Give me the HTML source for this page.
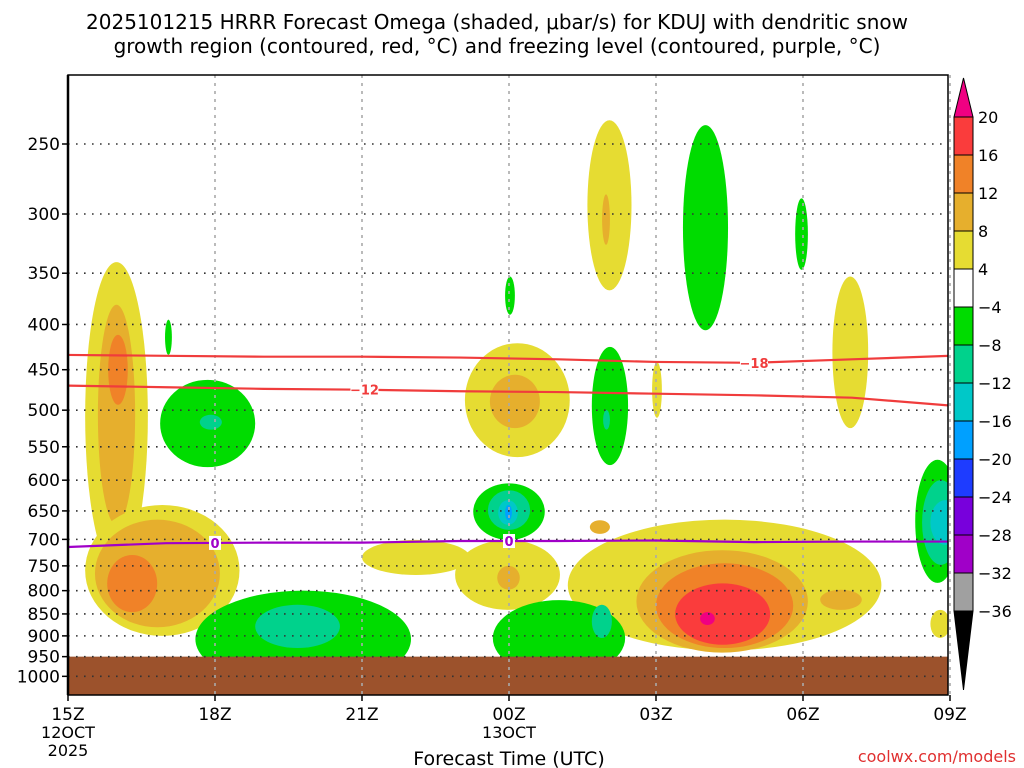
<!DOCTYPE html>
<html><head><meta charset="utf-8"><style>
html,body{margin:0;padding:0;background:#fff;width:1024px;height:768px;overflow:hidden}
svg text{font-family:"DejaVu Sans","Liberation Sans",sans-serif}
</style></head><body>
<svg id="chart" width="1024" height="768" viewBox="0 0 1024 768" xmlns="http://www.w3.org/2000/svg">
<text x="497" y="29" font-size="20" text-anchor="middle" fill="#000">2025101215 HRRR Forecast Omega (shaded, μbar/s) for KDUJ with dendritic snow</text>
<text x="497" y="53" font-size="20" text-anchor="middle" fill="#000">growth region (contoured, red, °C) and freezing level (contoured, purple, °C)</text>
<defs><clipPath id="plotclip"><rect x="68" y="75" width="880" height="620"/></clipPath></defs>
<g id="shade" clip-path="url(#plotclip)"></g>
<g id="grid"></g>
<g id="contours" clip-path="url(#plotclip)"></g>
<g id="axes"></g>
<g id="cbar"></g>
<text x="509" y="765" font-size="19" text-anchor="middle" fill="#000">Forecast Time (UTC)</text>
<text x="1016" y="762" font-size="16" text-anchor="end" fill="#e03030">coolwx.com/models</text>
</svg>
<script>
// ---- data ----
const pressureTicks=[250,300,350,400,450,500,550,600,650,700,750,800,850,900,950,1000];
const timeTickHours=[0,3,6,9,12,15,18];
const timeTickLabels=["15Z","18Z","21Z","00Z","03Z","06Z","09Z"];
const cbarLevels=["20","16","12","8","4","-4","-8","-12","-16","-20","-24","-28","-32","-36"];
const cbarColors=["#fa3c3c","#f08228","#e6af2d","#e6dc32","#ffffff","#00dc00","#00d28c","#00c8c8","#00a0ff","#1e3cff","#7800dc","#a000c8","#a0a0a0"];
// blobs: [hourStart, hourEnd, pTop, pBottom, level]
const blobHourStart=[0.35,0.61,0.82,0.35,0.55,0.8,1.98,1.88,2.69,2.6,3.82,10.6,10.9,12.55,14.84,8.92,15.6,8.1,8.61,10.69,10.92,11.92,6.0,7.9,10.2,11.6,12.0,12.39,12.9,8.76,10.65,15.35,17.6,8.67,10.69,8.27,8.57,8.78,8.92,17.29,17.43,17.6];
const blobHourEnd=[1.63,1.37,1.22,3.5,3.1,1.82,2.12,3.82,3.14,7.0,5.55,11.5,11.06,13.47,15.1,9.12,16.33,10.24,9.63,11.43,11.06,12.12,8.2,10.04,16.6,15.1,14.8,14.33,13.2,9.22,11.06,16.2,18.0,11.37,11.1,9.73,9.43,9.18,9.06,18.2,18.2,18.2];
const blobPTop=[340,380,411,640,665,729,395,462,506,800,830,235,285,238,288,353,353,420,456,424,500,441,701,701,665,720,745,785,846,750,666,798,841,820,830,605,616,632,640,569,600,632];
const blobPBottom=[758,674,493,900,880,846,433,580,526,1030,929,366,325,406,347,390,524,565,524,577,526,510,768,841,935,940,929,921,875,798,690,841,905,1000,905,701,683,674,666,784,748,710];
const blobLevel=[1,2,3,1,2,3,-1,-1,-2,-1,-2,1,2,-1,-1,-1,1,1,2,-1,-2,1,1,1,1,2,3,4,5,2,2,2,1,-1,-2,-1,-2,-3,-4,-1,-2,-3];
// contour lines
const contourHours=[0,2,4,6,8,10,12,14,16,18];
const contourM18=[433,434,435,435,436,438,441,442,438,434];
const contourM12=[469,471,473,474,476,477,479,481,484,494];
const contourZero=[714,707,706,706,703,703,702,705,704,704];

const levelColor={1:"#e6dc32",2:"#e6af2d",3:"#f08228",4:"#fa3c3c",5:"#f00082","-1":"#00dc00","-2":"#00d28c","-3":"#00c8c8","-4":"#00a0ff"};
const X0=68,X1=948,Y0=75,Y1=695;
function xs(h){return X0+h*49;}
function ys(p){return 144+384*Math.log(p/250);}
const NS="http://www.w3.org/2000/svg";
function mk(tag,attrs,parent){const e=document.createElementNS(NS,tag);for(const k in attrs)e.setAttribute(k,attrs[k]);parent.appendChild(e);return e;}

const shade=document.getElementById('shade');
for(let i=0;i<blobLevel.length;i++){
  const x1=xs(blobHourStart[i]),x2=xs(blobHourEnd[i]),y1=ys(blobPTop[i]),y2=ys(blobPBottom[i]);
  const e=mk('ellipse',{cx:(x1+x2)/2,cy:(y1+y2)/2,rx:(x2-x1)/2,ry:(y2-y1)/2,fill:levelColor[blobLevel[i]]},shade);
  
  
}
const ground=mk('rect',{x:X0,y:ys(950),width:X1-X0,height:Y1-ys(950),fill:"#9c522c"},shade);



const grid=document.getElementById('grid');
pressureTicks.forEach(p=>{
  const l=mk('line',{x1:X0,x2:X1,y1:ys(p),y2:ys(p),stroke:"#333",'stroke-width':1.6,'stroke-dasharray':"1.6 6.4"},grid);
  
  
});
timeTickHours.forEach(h=>{
  const l=mk('line',{x1:xs(h),x2:xs(h),y1:Y0,y2:Y1,stroke:"#aaa",'stroke-width':1.6,'stroke-dasharray':"3 5"},grid);
  
  
});

const cont=document.getElementById('contours');
function drawLine(vals,color,label,labelHours,name){
  let d="";contourHours.forEach((h,i)=>{d+=(i?"L":"M")+xs(h)+","+ys(vals[i]);});
  const p=mk('path',{d:d,fill:"none",stroke:color,'stroke-width':2.2},cont);
  
  
  labelHours.forEach(h=>{
    let k=0;while(k<contourHours.length-2&&contourHours[k+1]<h)k++;
    const t=(h-contourHours[k])/(contourHours[k+1]-contourHours[k]);
    const pv=vals[k]+(vals[k+1]-vals[k])*t;
    const w=label.length*8+4;
    mk('rect',{x:xs(h)-w/2,y:ys(pv)-7,width:w,height:14,fill:"#fff"},cont);
    const tx=mk('text',{x:xs(h),y:ys(pv)+5,'font-size':13,'font-weight':'bold','text-anchor':'middle',fill:color},cont);
    tx.textContent=label;
    
    
  });
}
drawLine(contourM18,"#f03c3c","−18",[14],"contour-minus-18");
drawLine(contourM12,"#f03c3c","−12",[6.05],"contour-minus-12");
drawLine(contourZero,"#a000c8","0",[3,9],"freezing-level");

const axes=document.getElementById('axes');
mk('rect',{x:X0,y:Y0,width:X1-X0,height:Y1-Y0,fill:"none",stroke:"#000",'stroke-width':1.5},axes);
mk('line',{x1:X0,x2:X0,y1:Y0,y2:Y1,stroke:"#000",'stroke-width':2.5},axes);
pressureTicks.forEach(p=>{
  mk('line',{x1:X0-6,x2:X0,y1:ys(p),y2:ys(p),stroke:"#000",'stroke-width':1.5},axes);
  const t=mk('text',{x:X0-8,y:ys(p)+6,'font-size':17,'text-anchor':'end',fill:"#000"},axes);
  t.textContent=p;
  
  
});
timeTickHours.forEach((h,i)=>{
  mk('line',{x1:xs(h),x2:xs(h),y1:Y1,y2:Y1+6,stroke:"#000",'stroke-width':1.5},axes);
  const t=mk('text',{x:xs(h),y:720,'font-size':17,'text-anchor':'middle',fill:"#000"},axes);
  t.textContent=timeTickLabels[i];
  
  
});
[["12OCT",0,738],["2025",0,756],["13OCT",9,738]].forEach(a=>{
  const t=mk('text',{x:xs(a[1]),y:a[2],'font-size':16,'text-anchor':'middle',fill:"#000"},axes);
  t.textContent=a[0];
  
  
});

const cb=document.getElementById('cbar');
const CB0=117,CBH=38,CX=954,CW=19;
mk('path',{d:`M${CX},${CB0} L${CX+CW/2},78 L${CX+CW},${CB0} Z`,fill:"#f00082",stroke:"#000"},cb);
cbarColors.forEach((c,i)=>{
  const r=mk('rect',{x:CX,y:CB0+i*CBH,width:CW,height:CBH,fill:c,stroke:"#000"},cb);
  
  
});
const cbEnd=CB0+cbarColors.length*CBH;
mk('path',{d:`M${CX},${cbEnd} L${CX+CW/2},690 L${CX+CW},${cbEnd} Z`,fill:"#000",stroke:"#000"},cb);
cbarLevels.forEach((l,i)=>{
  const t=mk('text',{x:CX+CW+5,y:CB0+i*CBH+6,'font-size':16,fill:"#000"},cb);
  t.textContent=l.replace('-','−');
  
  
});
</script>
</body></html>
